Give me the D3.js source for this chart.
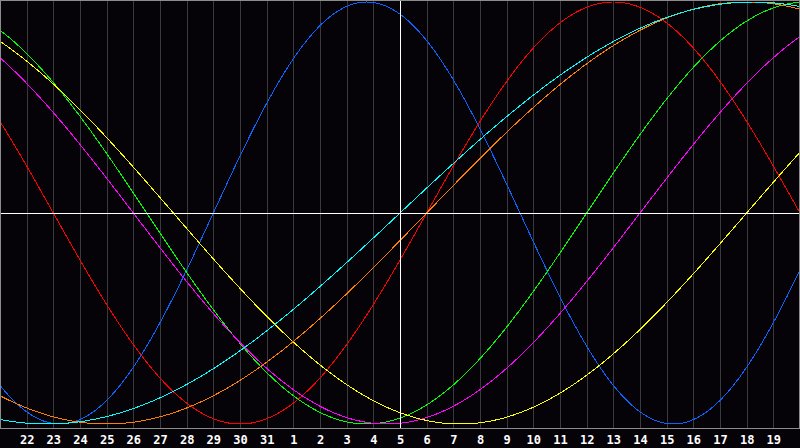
<!DOCTYPE html>
<html>
<head>
<meta charset="utf-8">
<script src="https://cdn.jsdelivr.net/npm/d3@7"></script>
<style>
  html, body { margin: 0; padding: 0; background: #050308; }
  svg { display: block; }
</style>
</head>
<body>
<svg id="chart" width="800" height="448"></svg>
<script>
// ---- data ----
const cycleNames   = ["Physical", "Emotional", "Intellectual", "Intuitive", "Aesthetic", "Awareness", "Spiritual"];
const cyclePeriods = [23, 28, 33, 38, 43, 48, 53];          // days
const cycleDayToday = [7, 27, 26, 29, 30, 47, 0];           // position in cycle on the centre day
const cycleColors  = ["#0a64ff", "#ff0000", "#00ff00", "#ff00ff", "#ffff00", "#ff8000", "#00ffff"];
const dayOffsets   = d3.range(-14, 15);                     // days shown with a label, relative to today
const dayLabels    = ["22","23","24","25","26","27","28","29","30","31","1","2","3","4","5",
                      "6","7","8","9","10","11","12","13","14","15","16","17","18","19"];

// ---- layout ----
const W = 800, plotBottom = 428;
const svg = d3.select("#chart");
svg.append("rect").attr("width", 800).attr("height", 448).attr("fill", "#050308");

const x = d3.scaleLinear().domain([-15, 15]).range([0, W]);
const y = d3.scaleLinear().domain([-1, 1]).range([424, 2]);

// vertical day grid
svg.append("g").selectAll("line").data(dayOffsets.filter(d => d !== 0)).join("line")
  .attr("x1", d => Math.round(x(d)) + 0.5).attr("x2", d => Math.round(x(d)) + 0.5)
  .attr("y1", 0).attr("y2", plotBottom)
  .attr("stroke", "#3a3a3e").attr("stroke-width", 1)
  .attr("shape-rendering", "crispEdges");

// curves
const samples = d3.range(-15, 15.001, 0.05);
const line = d3.line().x(d => x(d[0])).y(d => y(d[1]));
const order = [0, 1, 2, 3, 4, 5, 6];
svg.append("g").selectAll("path").data(order).join("path")
  .attr("d", i => line(samples.map(t => [t, Math.sin(2 * Math.PI * (cycleDayToday[i] + t) / cyclePeriods[i])])))
  .attr("fill", "none")
  .attr("stroke", i => cycleColors[i])
  .attr("stroke-width", 1)
  .attr("shape-rendering", "crispEdges");

// today & zero lines
svg.append("line")
  .attr("x1", 0).attr("x2", W).attr("y1", Math.round(y(0)) + 0.5).attr("y2", Math.round(y(0)) + 0.5)
  .attr("stroke", "#ffffff").attr("shape-rendering", "crispEdges");
svg.append("line")
  .attr("x1", Math.round(x(0)) + 0.5).attr("x2", Math.round(x(0)) + 0.5).attr("y1", 0).attr("y2", plotBottom)
  .attr("stroke", "#ffffff").attr("shape-rendering", "crispEdges");

// border
svg.append("path")
  .attr("d", `M0.5,${plotBottom + 0.5}V0.5H799.5V${plotBottom + 0.5}H0.5`)
  .attr("fill", "none").attr("stroke", "#8c8c8c").attr("shape-rendering", "crispEdges");

// axis labels
const axis = d3.axisBottom(x).tickValues(dayOffsets)
  .tickFormat((d, i) => dayLabels[i]).tickSize(0).tickPadding(7);
const gAxis = svg.append("g").attr("transform", `translate(0,${plotBottom})`).call(axis);
gAxis.select(".domain").remove();
gAxis.selectAll("text")
  .attr("fill", "#ffffff")
  .attr("font-family", "'DejaVu Sans Mono', monospace")
  .attr("font-weight", "bold")
  .attr("font-size", "12px");
</script>
</body>
</html>
